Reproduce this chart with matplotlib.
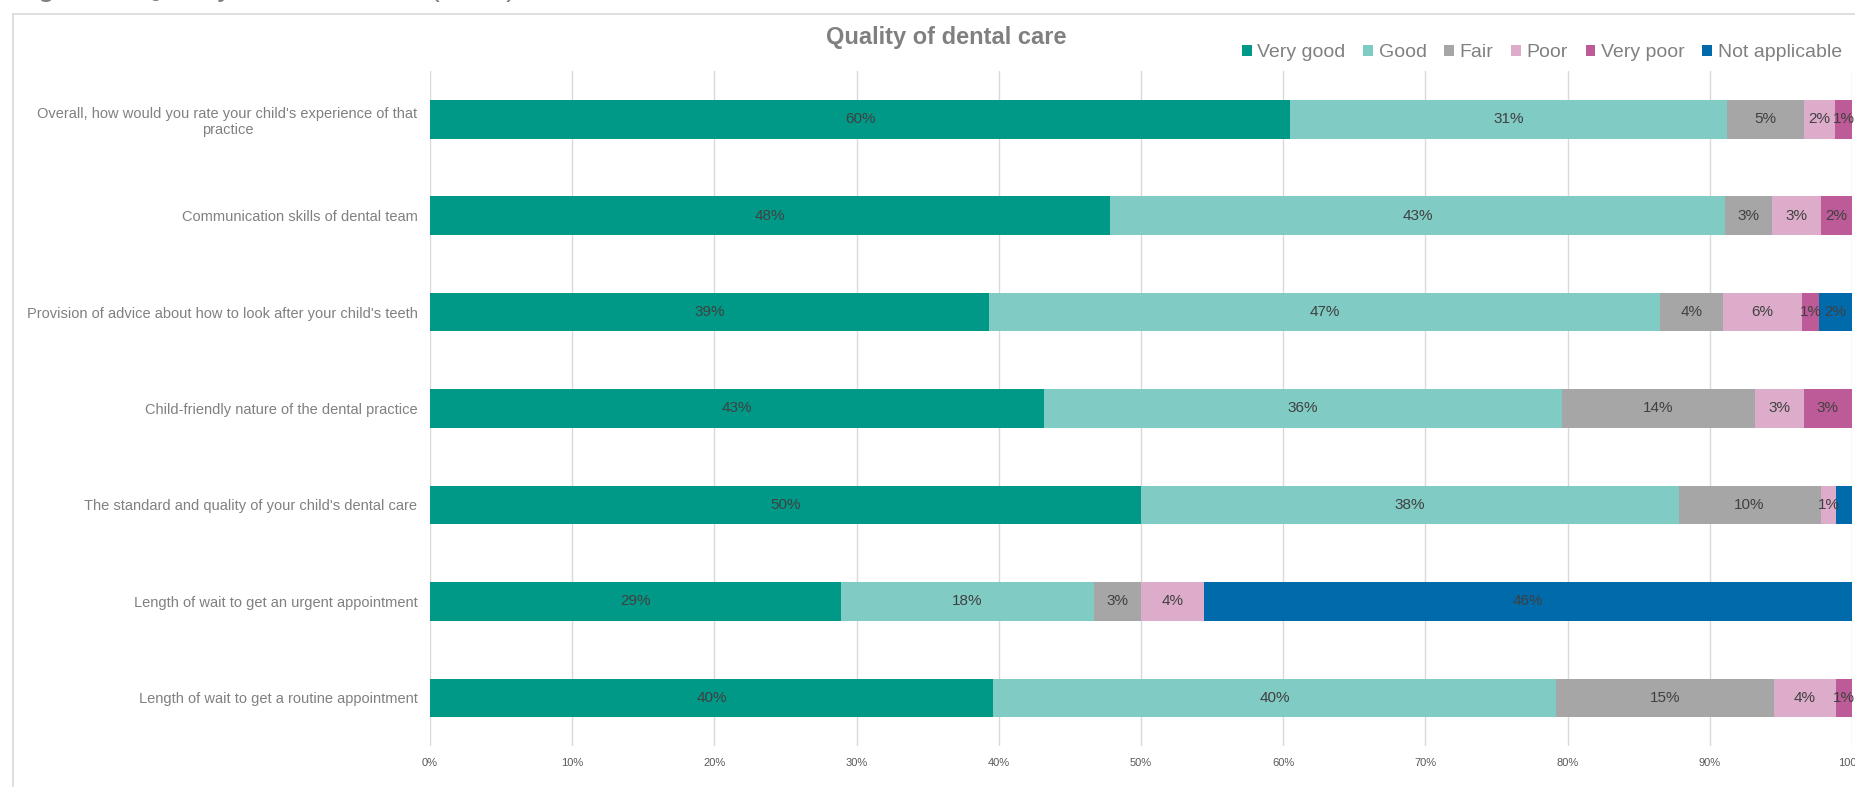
import matplotlib
matplotlib.use('Agg')
import matplotlib.pyplot as plt
import numpy as np
from matplotlib.patches import Patch
from matplotlib.lines import Line2D

plt.rcParams['font.family'] = ['Liberation Sans', 'DejaVu Sans']

questions = [
  "Overall, how would you rate your child's experience of that\npractice",
  "Communication skills of dental team",
  "Provision of advice about how to look after your child's teeth",
  "Child-friendly nature of the dental practice",
  "The standard and quality of your child's dental care",
  "Length of wait to get an urgent appointment",
  "Length of wait to get a routine appointment",
]

answers = ["Very good", "Good", "Fair", "Poor", "Very poor", "Not applicable"]

very_good = [60.5, 47.8, 39.3, 43.2, 50.0, 28.9, 39.6]
good = [30.7, 43.3, 47.2, 36.4, 37.8, 17.8, 39.6]
fair = [5.4, 3.3, 4.4, 13.6, 10.0, 3.3, 15.3]
poor = [2.2, 3.4, 5.6, 3.4, 1.1, 4.4, 4.4]
very_poor = [1.2, 2.2, 1.2, 3.4, 0.0, 0.0, 1.1]
not_applicable = [0.0, 0.0, 2.3, 0.0, 1.1, 45.6, 0.0]

# one label Excel did not show
hidden_labels = [(4, 5)]

colors = ["#009988", "#80cbc4", "#a6a6a6", "#ddacca", "#bc5b97", "#006aaa"]

series = [very_good, good, fair, poor, very_poor, not_applicable]

fig = plt.figure(figsize=(18.56, 7.87), dpi=100)
ax = fig.add_axes([430 / 1856, 1 - 746 / 787, 1422 / 1856, 675 / 787])

y = np.arange(len(questions))
left = np.zeros(len(questions))
for s, (vals, col) in enumerate(zip(series, colors)):
  vals = np.array(vals)
  bars = ax.barh(y, vals, left=left, height=0.4, color=col, zorder=2)
  for i, b in enumerate(bars):
    if vals[i] <= 0 or (i, s) in hidden_labels:
      continue
    ax.text(left[i] + vals[i] / 2, y[i], "%.0f%%" % vals[i], ha="center", va="center",
            fontsize=11, color="#404040", zorder=3, clip_on=False)
  left = left + vals

ax.set_xlim(0, 100)
ax.set_ylim(len(questions) - 0.5, -0.5)
ax.set_xticks(np.arange(0, 101, 10))
ax.set_xticklabels(["%d%%" % v for v in range(0, 101, 10)], fontsize=8, color="#595959")
ax.set_yticks(y)
ax.set_yticklabels(questions, fontsize=10.5, color="#808080", ha="right", multialignment="center")
ax.tick_params(axis="both", length=0)
ax.tick_params(axis="y", pad=9)
ax.tick_params(axis="x", pad=9)
ax.grid(axis="x", color="#d9d9d9", linewidth=1, zorder=0)
for sp in ax.spines.values():
  sp.set_visible(False)

fig.text(946 / 1856, 1 - 37.5 / 787, "Quality of dental care", ha="center", va="center",
         fontsize=17, fontweight="bold", color="#808080")

handles = [Patch(facecolor=c, edgecolor="none") for c in colors]
fig.legend(handles, answers, loc="center right", bbox_to_anchor=(1842 / 1856, 1 - 52.5 / 787),
           ncol=6, frameon=False, fontsize=14, labelcolor="#808080", handlelength=0.5,
           handleheight=0.5, handletextpad=0.3, columnspacing=0.9, borderpad=0, borderaxespad=0)

# chart frame and clipped caption above it
fig.add_artist(Line2D([13 / 1856, 13 / 1856], [0, 1 - 14 / 787], color="#d9d9d9", linewidth=1.2))
fig.add_artist(Line2D([13 / 1856, 1], [1 - 14 / 787, 1 - 14 / 787], color="#d9d9d9", linewidth=1.2))
fig.text(13 / 1856, 1 + 4 / 787, "Figure 8: Quality of dental care (2019)", ha="left",
         va="baseline", fontsize=21.5, color="#808080")

fig.savefig("out.png", dpi=100, facecolor="white")
